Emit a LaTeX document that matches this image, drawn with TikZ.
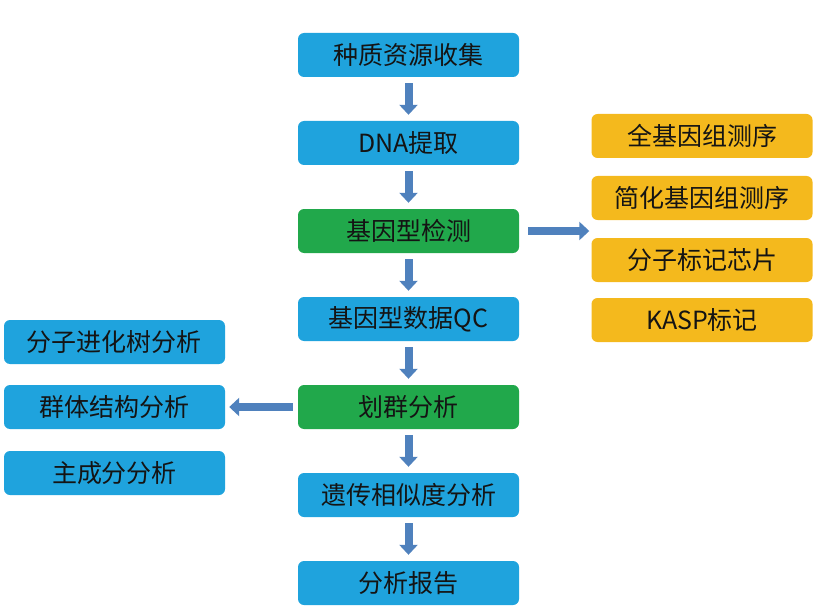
\documentclass[tikz,border=0pt]{standalone}
\usepackage{fontspec}
\setmainfont{Noto Sans CJK SC}
\usetikzlibrary{arrows.meta,calc}
\definecolor{cblue}{HTML}{1FA3DD}
\definecolor{cgreen}{HTML}{21A84B}
\definecolor{corange}{HTML}{F4B91D}
\definecolor{carrow}{HTML}{4F81BD}
\definecolor{carrowdark}{HTML}{3B6795}
\definecolor{ctext}{HTML}{141414}
\tikzset{
  box/.style={rounded corners=6pt, minimum width=221pt, minimum height=44pt,
    inner sep=0pt, text=ctext, font=\fontsize{25}{28}\selectfont, draw=none},
  bluebox/.style={box, fill=cblue},
  greenbox/.style={box, fill=cgreen},
  orangebox/.style={box, fill=corange},
  barrow/.style={draw=carrow, line width=8pt,
    -{Triangle[width=18pt,length=10pt,fill=carrow]}},
}
\begin{document}
\begin{tikzpicture}[x=1pt,y=-1pt]
\useasboundingbox (0,0) rectangle (817,607);
% center column
\node[bluebox]  (n1) at (408.5,55)  {种质资源收集};
\node[bluebox]  (n2) at (408.5,143) {DNA提取};
\node[greenbox] (n3) at (408.5,231) {基因型检测};
\node[bluebox]  (n4) at (408.5,319) {基因型数据QC};
\node[greenbox] (n5) at (408.5,407) {划群分析};
\node[bluebox]  (n6) at (408.5,495) {遗传相似度分析};
\node[bluebox]  (n7) at (408.5,583) {分析报告};
% right column
\node[orangebox] (r1) at (702,136) {全基因组测序};
\node[orangebox] (r2) at (702,198) {简化基因组测序};
\node[orangebox] (r3) at (702,260) {分子标记芯片};
\node[orangebox] (r4) at (702,320) {KASP标记};
% left column
\node[bluebox] (l1) at (114.5,342) {分子进化树分析};
\node[bluebox] (l2) at (114.5,407) {群体结构分析};
\node[bluebox] (l3) at (114.5,473) {主成分分析};
% arrows
\foreach \a/\b in {n1/n2,n2/n3,n3/n4,n4/n5,n5/n6,n6/n7}{
  \draw[barrow, shorten <=6pt, shorten >=6pt] (\a.south) -- (\b.north);
}
\coordinate (rgap) at ($(r2.south west)!0.5!(r3.north west)$);
\draw[barrow, shorten <=9pt, shorten >=2pt] (n3.east) -- (n3.east -| rgap);
\draw[barrow, shorten <=5pt, shorten >=4pt] (n5.west) -- (l2.east);
\end{tikzpicture}
\end{document}
